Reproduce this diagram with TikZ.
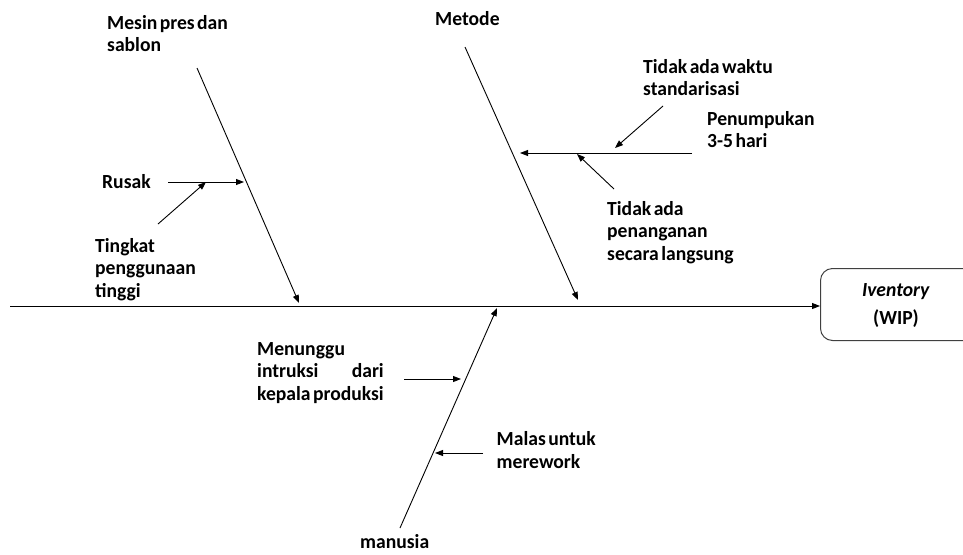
\documentclass[tikz,border=0pt]{standalone}
\usepackage{fontspec}
\setmainfont{Carlito}[FakeStretch=0.98,WordSpace=0.55]
\usetikzlibrary{arrows.meta}
\newlength\kepwd
\begin{document}
\begin{tikzpicture}[x=1pt,y=-1pt,
  bone/.style={line width=0.9pt,-{Triangle[length=8pt,width=6pt]}},
  % multi-line labels are placed by the baseline of their last line
  lbl/.style={font=\bfseries\fontsize{20}{22.3}\selectfont,inner sep=0pt,anchor=base west,align=left},
  effect/.style={draw=black!75,line width=1pt,rounded corners=12pt}]
\useasboundingbox (0,0) rectangle (963,554);
\clip (0,0) rectangle (963,554);

% effect box
\node[effect,minimum width=160pt,minimum height=72pt,anchor=north west] (eff) at (820,268) {};
\node[font=\bfseries\fontsize{20}{28}\selectfont,align=center,inner sep=0pt,anchor=base] (efftext) at (896,324) {\textit{Iventory}\\(WIP)};

% spine
\coordinate (tail) at (10,306);
\draw[bone] (tail) -- (eff.west |- tail);

% category labels
\node[lbl] (mesin) at (107,51.5) {Mesin pres dan\\sablon};
\node[lbl] (metode) at (435,25) {Metode};
\node[lbl] (manusia) at (360,548) {manusia};

% category bones
\coordinate (m1) at (197,68);   \coordinate (m2) at (299,303);
\coordinate (t1) at (465,47);   \coordinate (t2) at (578,300);
\coordinate (h1) at (400,528);  \coordinate (h2) at (497,308);
\draw[bone] (m1) -- (m2);
\draw[bone] (t1) -- (t2);
\draw[bone] (h1) -- (h2);

% causes: machine
\node[lbl] (rusak) at (102,188) {Rusak};
\node[lbl] (tingkat) at (95,297) {Tingkat\\penggunaan\\tinggi};
\coordinate (r1) at (168,182); \coordinate (r2) at (244,182);
\coordinate (rmid) at (206,182); \coordinate (tk1) at (158,224);
\draw[bone] (r1) -- (r2);
\draw[bone] (tk1) -- (rmid);

% causes: method
\node[lbl] (penumpukan) at (707,147.5) {Penumpukan\\3-5 hari};
\node[lbl] (waktu) at (643,95.8) {Tidak ada waktu\\standarisasi};
\node[lbl] (penanganan) at (607,260) {Tidak ada\\penanganan\\secara langsung};
\coordinate (p1) at (692,153); \coordinate (p2) at (520,153);
\coordinate (pw) at (615,148); \coordinate (w1) at (663,106);
\coordinate (pn) at (577,154); \coordinate (n1) at (614,189);
\draw[bone] (p1) -- (p2);
\draw[bone] (w1) -- (pw);
\draw[bone] (n1) -- (pn);

% causes: people (middle line spread to the width of the last one)
\node[lbl] (menunggu) at (257,400) {Menunggu\\{\settowidth\kepwd{kepala produksi}\hbox to\kepwd{intruksi\hfill dari}}\\kepala produksi};
\node[lbl] (malas) at (496.5,468) {Malas untuk\\merework};
\coordinate (u1) at (404,379); \coordinate (u2) at (461,379);
\coordinate (s1) at (483,453); \coordinate (s2) at (435,453);
\draw[bone] (u1) -- (u2);
\draw[bone] (s1) -- (s2);
\end{tikzpicture}
\end{document}
